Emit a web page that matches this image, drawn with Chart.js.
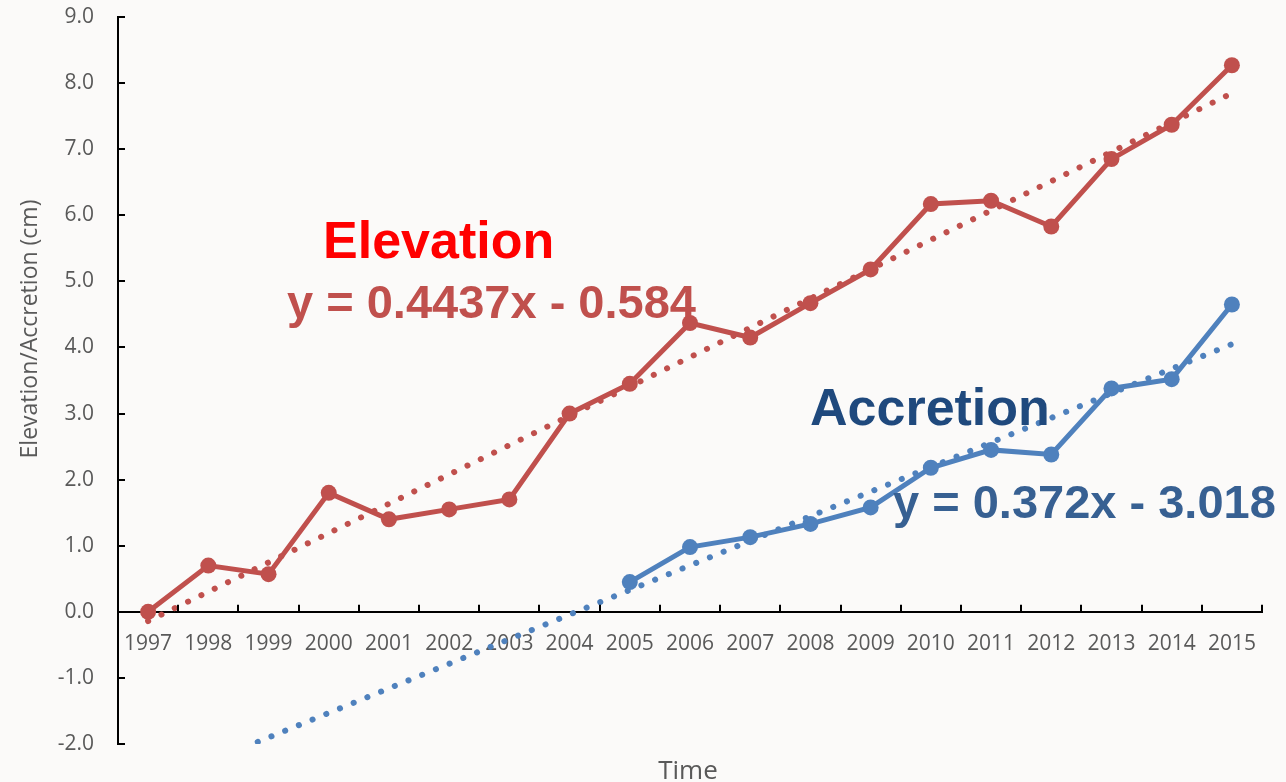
<!DOCTYPE html>
<html>
<head>
<meta charset="utf-8">
<script src="https://cdn.jsdelivr.net/npm/chart.js@4"></script>
<style>
  body { margin: 0; background: #fbfaf9; }
  #wrap { width: 1286px; height: 782px; }
</style>
</head>
<body>
<div id="wrap"><canvas id="chart" width="1286" height="782"></canvas></div>
<script>
// Chart values
const years = ['1997', '1998', '1999', '2000', '2001', '2002', '2003', '2004', '2005', '2006',
               '2007', '2008', '2009', '2010', '2011', '2012', '2013', '2014', '2015'];
const elevation = [0.0, 0.70, 0.57, 1.80, 1.40, 1.55, 1.70, 3.00, 3.45, 4.37,
                   4.15, 4.67, 5.18, 6.17, 6.22, 5.83, 6.85, 7.37, 8.27];
const accretion = [null, null, null, null, null, null, null, null, 0.45, 0.98,
                   1.13, 1.33, 1.58, 2.18, 2.45, 2.38, 3.38, 3.52, 4.65];
// linear trendlines as shown on the chart
const elevationTrend = [-0.140, 0.303, 0.747, 1.191, 1.635, 2.078, 2.522, 2.966, 3.409, 3.853,
                        4.297, 4.740, 5.184, 5.628, 6.072, 6.515, 6.959, 7.403, 7.846];
const accretionTrend = [-2.646, -2.274, -1.902, -1.530, -1.158, -0.786, -0.414, -0.042, 0.330, 0.702,
                        1.074, 1.446, 1.818, 2.190, 2.562, 2.934, 3.306, 3.678, 4.050];
const yTicks = [-2, -1, 0, 1, 2, 3, 4, 5, 6, 7, 8, 9];

const red = '#c0504d';
const blue = '#4f81bd';
const grey = '#595959';
const tickFont = { family: 'Open Sans', size: 21 };

// Tick marks, axis title and the text boxes drawn on top of the chart
const extras = {
    id: 'extras',
    afterDraw(chart) {
        const ctx = chart.ctx;
        const y = chart.scales.y;
        const area = chart.chartArea;
        ctx.save();
        ctx.strokeStyle = '#000';
        ctx.lineWidth = 2;

        // y ticks point inwards
        yTicks.forEach(v => {
            const py = Math.round(y.getPixelForValue(v));
            ctx.beginPath();
            ctx.moveTo(area.left, py);
            ctx.lineTo(area.left + 7, py);
            ctx.stroke();
        });

        // x ticks between categories, pointing up from the zero line
        const y0 = y.getPixelForValue(0);
        const step = (area.right - area.left) / years.length;
        for (let i = 0; i <= years.length; i++) {
            const px = Math.round(area.left + i * step);
            ctx.beginPath();
            ctx.moveTo(px, y0);
            ctx.lineTo(px, y0 - 7);
            ctx.stroke();
        }

        // axis titles
        ctx.fillStyle = grey;
        ctx.font = '23px "Open Sans"';
        ctx.textAlign = 'center';
        ctx.textBaseline = 'middle';
        ctx.save();
        ctx.translate(30, 329);
        ctx.rotate(-Math.PI / 2);
        ctx.fillText('Elevation/Accretion (cm)', 0, 0);
        ctx.restore();
        ctx.font = '26px "Open Sans"';
        ctx.textBaseline = 'alphabetic';
        ctx.fillText('Time', 688, 779);

        // series labels and equations
        ctx.textAlign = 'left';
        ctx.font = 'bold 52px "Liberation Sans", Arial';
        ctx.fillStyle = '#ff0000';
        ctx.fillText('Elevation', 323, 258);
        ctx.fillStyle = '#1f497d';
        ctx.fillText('Accretion', 810, 425);
        ctx.font = 'bold 47px "Liberation Sans", Arial';
        ctx.fillStyle = red;
        ctx.fillText('y = 0.4437x - 0.584', 287, 318);
        ctx.fillStyle = '#376092';
        ctx.fillText('y = 0.372x - 3.018', 893, 518);
        ctx.restore();
    }
};

new Chart(document.getElementById('chart'), {
    type: 'line',
    data: {
        labels: years,
        datasets: [
            {
                label: 'Elevation',
                data: elevation,
                borderColor: red,
                backgroundColor: red,
                borderWidth: 5,
                pointRadius: 8,
                pointBorderWidth: 0,
                order: 1,
            },
            {
                label: 'Accretion',
                data: accretion,
                borderColor: blue,
                backgroundColor: blue,
                borderWidth: 5,
                pointRadius: 8,
                pointBorderWidth: 0,
                order: 1,
            },
            {
                label: 'Elevation trend',
                data: elevationTrend,
                borderColor: red,
                borderWidth: 6,
                borderDash: [0.1, 14.7],
                borderCapStyle: 'round',
                pointRadius: 0,
                order: 2,
            },
            {
                label: 'Accretion trend',
                data: accretionTrend,
                borderColor: blue,
                borderWidth: 6,
                borderDash: [0.1, 14.7],
                borderCapStyle: 'round',
                pointRadius: 0,
                order: 2,
            },
        ],
    },
    options: {
        responsive: false,
        animation: false,
        layout: { padding: { left: 0, right: 24, top: 17, bottom: 38 } },
        plugins: {
            legend: { display: false },
            tooltip: { enabled: false },
        },
        scales: {
            x: {
                position: { y: 0 },
                offset: true,
                grid: { display: false },
                border: { display: true, color: '#000', width: 2 },
                ticks: { color: grey, font: tickFont, padding: 12, maxRotation: 0, autoSkip: false },
            },
            y: {
                min: -2,
                max: 9,
                grid: { display: false },
                border: { display: true, color: '#000', width: 2 },
                afterFit: (scale) => {
                    scale.width = 118;
                    scale.paddingTop = 0;
                    scale.paddingBottom = 0;
                },
                afterBuildTicks: (scale) => { scale.ticks = yTicks.map(v => ({ value: v })); },
                ticks: {
                    color: grey,
                    font: tickFont,
                    padding: 16,
                    callback: (v) => v.toFixed(1),
                },
            },
        },
    },
    plugins: [extras],
});
</script>
</body>
</html>
